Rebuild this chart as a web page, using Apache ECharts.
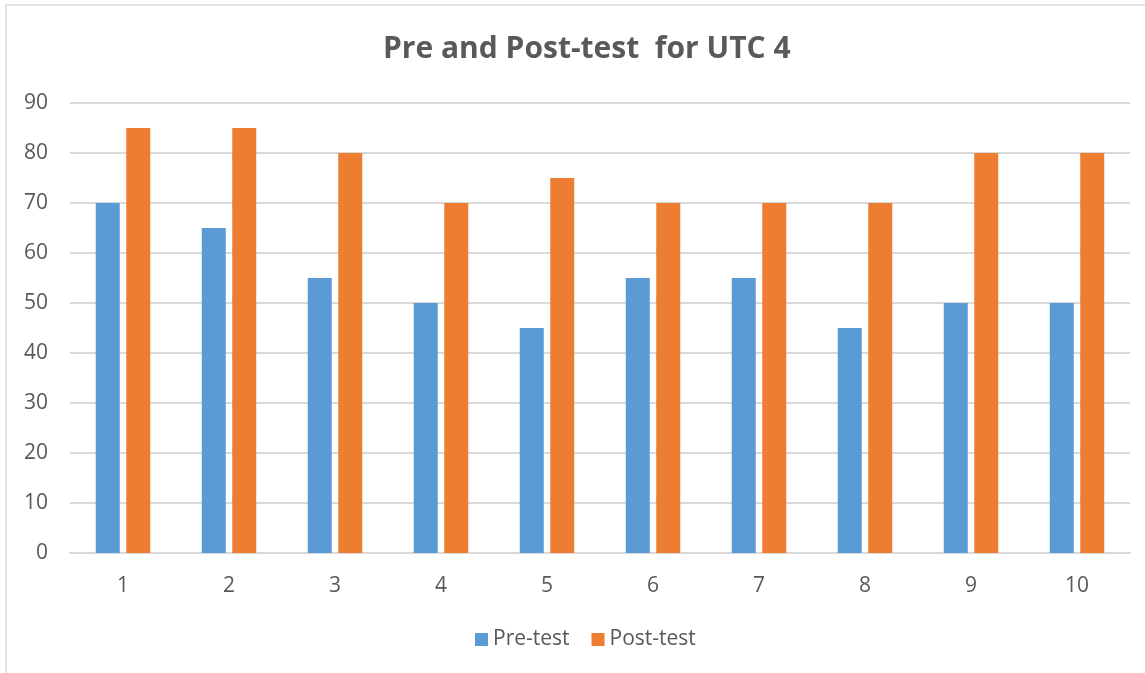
<!DOCTYPE html>
<html>
<head>
<meta charset="utf-8">
<script src="https://cdn.jsdelivr.net/npm/echarts@6/dist/echarts.min.js"></script>
<style>
  html, body { margin: 0; padding: 0; background: #fff; }
  #main { width: 1145px; height: 673px; }
</style>
</head>
<body>
<div id="main"></div>
<script>
// data
var categories = ['1', '2', '3', '4', '5', '6', '7', '8', '9', '10'];
var preTest = [70, 65, 55, 50, 45, 55, 55, 45, 50, 50];
var postTest = [85, 85, 80, 70, 75, 70, 70, 70, 80, 80];

var fontName = '"Open Sans", "Noto Sans", sans-serif';
var textColor = '#595959';

var chart = echarts.init(document.getElementById('main'), null, { renderer: 'canvas' });

var option = {
  backgroundColor: '#fff',
  animation: false,
  textStyle: { fontFamily: fontName },
  title: {
    text: 'Pre and Post-test  for UTC 4',
    left: 378,
    top: 29,
    textStyle: { fontSize: 30, fontWeight: 'bold', color: textColor, fontFamily: fontName }
  },
  graphic: [{
    type: 'rect',
    shape: { x: 6, y: 5, width: 1160, height: 700 },
    style: { fill: 'none', stroke: '#d9d9d9', lineWidth: 1.5 },
    silent: true
  }],
  legend: {
    bottom: 18,
    left: 470,
    itemWidth: 13,
    itemHeight: 13,
    itemGap: 22,
    icon: 'rect',
    textStyle: { fontSize: 21, color: textColor, fontFamily: fontName }
  },
  grid: { left: 70, right: 15, top: 103, bottom: 120 },
  xAxis: {
    type: 'category',
    data: categories,
    axisLine: { lineStyle: { color: '#d9d9d9', width: 2 } },
    axisTick: { show: false },
    axisLabel: { fontSize: 21, color: textColor, margin: 23 }
  },
  yAxis: {
    type: 'value',
    min: 0,
    max: 90,
    interval: 10,
    axisLine: { show: false },
    axisTick: { show: false },
    splitLine: { lineStyle: { color: '#d9d9d9', width: 2 } },
    axisLabel: { fontSize: 21, color: textColor, margin: 22 }
  },
  series: [
    {
      name: 'Pre-test',
      type: 'bar',
      data: preTest,
      barWidth: 24,
      barGap: '27%',
      itemStyle: { color: '#5b9bd5' }
    },
    {
      name: 'Post-test',
      type: 'bar',
      data: postTest,
      barWidth: 24,
      itemStyle: { color: '#ed7d31' }
    }
  ]
};

chart.setOption(option);
</script>
</body>
</html>
